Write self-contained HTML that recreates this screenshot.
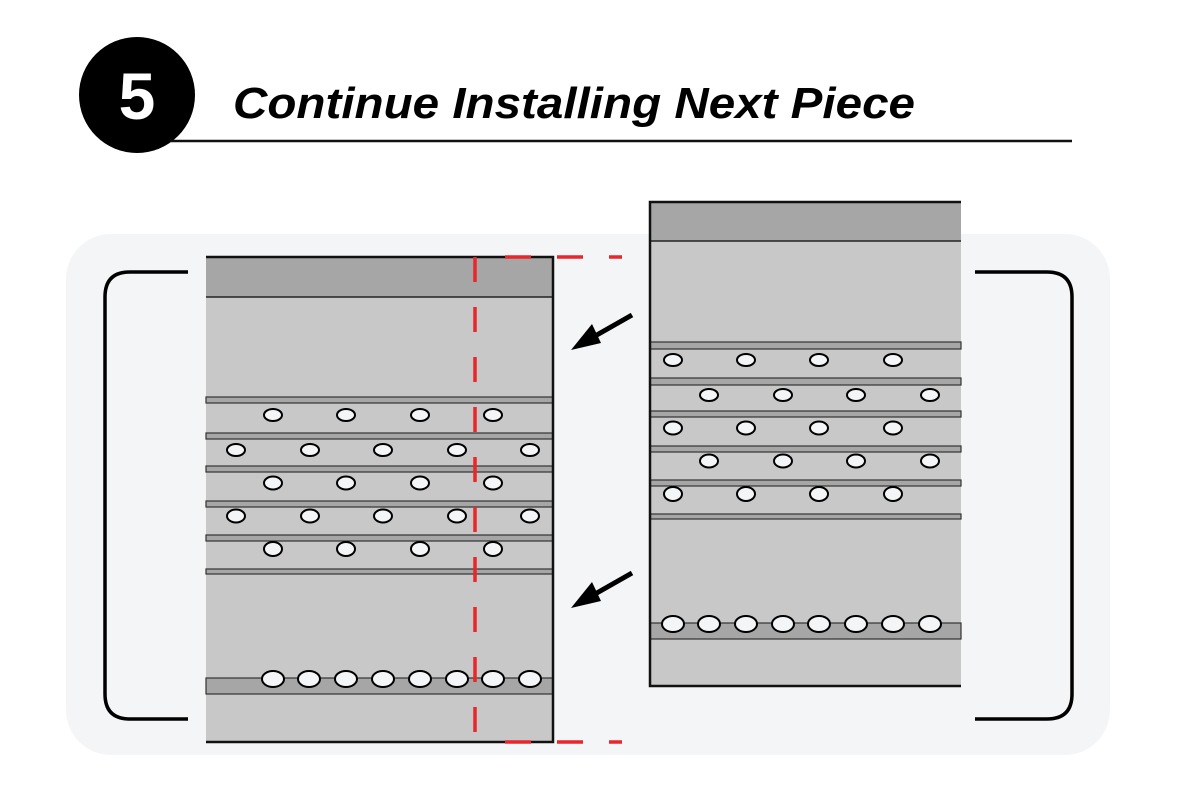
<!DOCTYPE html>
<html><head><meta charset="utf-8"><style>
html,body{margin:0;padding:0;background:#fff;}
svg{display:block}
</style></head><body>
<svg width="1177" height="792" viewBox="0 0 1177 792" xmlns="http://www.w3.org/2000/svg">
<rect x="0" y="0" width="1177" height="792" fill="#fff"/>
<circle cx="137" cy="95" r="58" fill="#000"/>
<text x="137" y="119" font-family="Liberation Sans, sans-serif" font-weight="bold" font-size="66" fill="#fff" text-anchor="middle">5</text>
<line x1="170" y1="141" x2="1072" y2="141" stroke="#111" stroke-width="2.5"/>
<text x="233" y="118" font-family="Liberation Sans, sans-serif" font-weight="bold" font-style="italic" font-size="44" fill="#000" textLength="682" lengthAdjust="spacingAndGlyphs">Continue Installing Next Piece</text>
<rect x="66" y="234" width="1044" height="521" rx="45" fill="#f4f5f7"/>
<path d="M188 272 H130 Q105 272 105 297 V694 Q105 719 130 719 H188" fill="none" stroke="#000" stroke-width="3.5"/>
<path d="M975 272 H1047 Q1072 272 1072 297 V694 Q1072 719 1047 719 H975" fill="none" stroke="#000" stroke-width="3.5"/>

<!-- Left panel -->
<g>
<rect x="206" y="257" width="347" height="485" fill="#c8c8c8"/>
<rect x="206" y="257" width="347" height="40" fill="#a5a6a5"/>
<line x1="206" y1="297" x2="553" y2="297" stroke="#222" stroke-width="1.5"/>
<g fill="#a5a6a5" stroke="#333" stroke-width="1.2">
<rect x="206" y="397" width="347" height="6"/>
<rect x="206" y="433" width="347" height="6"/>
<rect x="206" y="466" width="347" height="6"/>
<rect x="206" y="501" width="347" height="6"/>
<rect x="206" y="535" width="347" height="6"/>
<rect x="206" y="569" width="347" height="5"/>
<rect x="206" y="678" width="347" height="16"/>
</g>
<g fill="#f4f5f7" stroke="#000" stroke-width="2">
<ellipse cx="273" cy="415" rx="9" ry="6"/><ellipse cx="346" cy="415" rx="9" ry="6"/><ellipse cx="420" cy="415" rx="9" ry="6"/><ellipse cx="493" cy="415" rx="9" ry="6"/>
<ellipse cx="236" cy="450" rx="9" ry="6"/><ellipse cx="310" cy="450" rx="9" ry="6"/><ellipse cx="383" cy="450" rx="9" ry="6"/><ellipse cx="457" cy="450" rx="9" ry="6"/><ellipse cx="530" cy="450" rx="9" ry="6"/>
<ellipse cx="273" cy="483" rx="9" ry="6.5"/><ellipse cx="346" cy="483" rx="9" ry="6.5"/><ellipse cx="420" cy="483" rx="9" ry="6.5"/><ellipse cx="493" cy="483" rx="9" ry="6.5"/>
<ellipse cx="236" cy="516" rx="9" ry="6.5"/><ellipse cx="310" cy="516" rx="9" ry="6.5"/><ellipse cx="383" cy="516" rx="9" ry="6.5"/><ellipse cx="457" cy="516" rx="9" ry="6.5"/><ellipse cx="530" cy="516" rx="9" ry="6.5"/>
<ellipse cx="273" cy="549" rx="9" ry="7"/><ellipse cx="346" cy="549" rx="9" ry="7"/><ellipse cx="420" cy="549" rx="9" ry="7"/><ellipse cx="493" cy="549" rx="9" ry="7"/>
<ellipse cx="273" cy="679" rx="11" ry="8"/><ellipse cx="309" cy="679" rx="11" ry="8"/><ellipse cx="346" cy="679" rx="11" ry="8"/><ellipse cx="383" cy="679" rx="11" ry="8"/><ellipse cx="420" cy="679" rx="11" ry="8"/><ellipse cx="457" cy="679" rx="11" ry="8"/><ellipse cx="493" cy="679" rx="11" ry="8"/><ellipse cx="530" cy="679" rx="11" ry="8"/>
</g>
<path d="M206 257 H553 V742 H206" fill="none" stroke="#111" stroke-width="2.5"/>
</g>
<line x1="475" y1="257" x2="475" y2="742" stroke="#e8262b" stroke-width="3.5" stroke-dasharray="25 25"/>
<line x1="505" y1="257" x2="622" y2="257" stroke="#e8262b" stroke-width="3.5" stroke-dasharray="26 26"/>
<line x1="505" y1="742" x2="622" y2="742" stroke="#e8262b" stroke-width="3.5" stroke-dasharray="26 26"/>

<!-- Right panel -->
<g>
<rect x="650" y="202" width="311" height="484" fill="#c8c8c8"/>
<rect x="650" y="202" width="311" height="39" fill="#a5a6a5"/>
<line x1="650" y1="241" x2="961" y2="241" stroke="#222" stroke-width="1.5"/>
<g fill="#a5a6a5" stroke="#333" stroke-width="1.2">
<rect x="650" y="342" width="311" height="7"/>
<rect x="650" y="378" width="311" height="7"/>
<rect x="650" y="411" width="311" height="6"/>
<rect x="650" y="446" width="311" height="6"/>
<rect x="650" y="480" width="311" height="6"/>
<rect x="650" y="514" width="311" height="5"/>
<rect x="650" y="623" width="311" height="16"/>
</g>
<g fill="#f4f5f7" stroke="#000" stroke-width="2">
<ellipse cx="673" cy="360" rx="9" ry="6"/><ellipse cx="746" cy="360" rx="9" ry="6"/><ellipse cx="819" cy="360" rx="9" ry="6"/><ellipse cx="893" cy="360" rx="9" ry="6"/>
<ellipse cx="709" cy="395" rx="9" ry="6"/><ellipse cx="783" cy="395" rx="9" ry="6"/><ellipse cx="856" cy="395" rx="9" ry="6"/><ellipse cx="930" cy="395" rx="9" ry="6"/>
<ellipse cx="673" cy="428" rx="9" ry="6.5"/><ellipse cx="746" cy="428" rx="9" ry="6.5"/><ellipse cx="819" cy="428" rx="9" ry="6.5"/><ellipse cx="893" cy="428" rx="9" ry="6.5"/>
<ellipse cx="709" cy="461" rx="9" ry="6.5"/><ellipse cx="783" cy="461" rx="9" ry="6.5"/><ellipse cx="856" cy="461" rx="9" ry="6.5"/><ellipse cx="930" cy="461" rx="9" ry="6.5"/>
<ellipse cx="673" cy="494" rx="9" ry="7"/><ellipse cx="746" cy="494" rx="9" ry="7"/><ellipse cx="819" cy="494" rx="9" ry="7"/><ellipse cx="893" cy="494" rx="9" ry="7"/>
<ellipse cx="673" cy="624" rx="11" ry="8"/><ellipse cx="709" cy="624" rx="11" ry="8"/><ellipse cx="746" cy="624" rx="11" ry="8"/><ellipse cx="783" cy="624" rx="11" ry="8"/><ellipse cx="819" cy="624" rx="11" ry="8"/><ellipse cx="856" cy="624" rx="11" ry="8"/><ellipse cx="893" cy="624" rx="11" ry="8"/><ellipse cx="930" cy="624" rx="11" ry="8"/>
</g>
<path d="M961 202 H650 V686 H961" fill="none" stroke="#111" stroke-width="2.5"/>
</g>

<!-- Arrows -->
<g stroke="#000" stroke-width="5" fill="#000">
<line x1="632" y1="315" x2="588" y2="340"/>
<line x1="632" y1="573" x2="588" y2="598"/>
</g>
<polygon points="571,350 592,324 601,343" fill="#000"/>
<polygon points="571,608 592,582 601,601" fill="#000"/>
</svg>
</body></html>
